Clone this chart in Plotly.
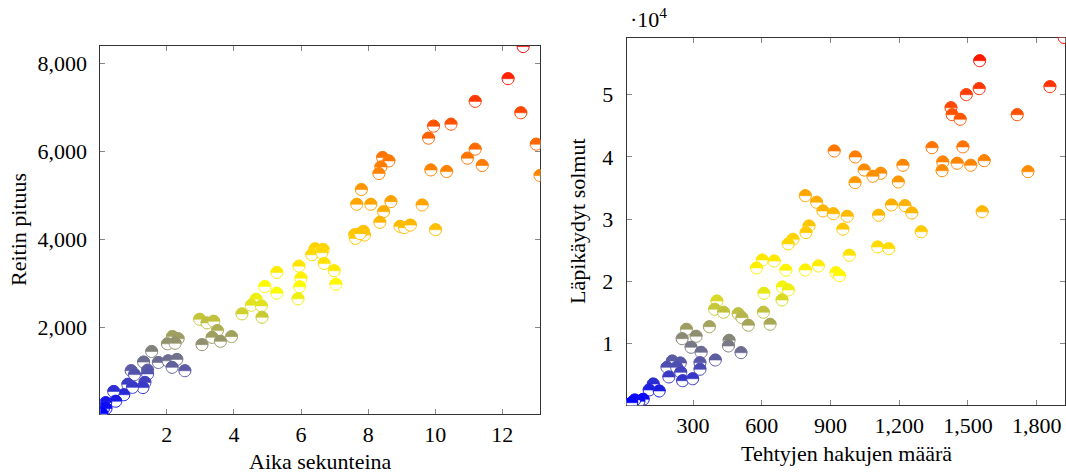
import plotly.graph_objects as go

# ---- Left chart: Aika sekunteina vs Reitin pituus ----
left_time = [12.62, 12.17, 11.19, 12.55, 9.95, 10.47, 9.80, 13.01, 11.19, 10.96,
             13.12, 8.43, 8.62, 8.38, 8.32, 9.87, 10.34, 11.40, 7.80, 7.66,
             8.08, 8.68, 8.46, 9.61, 8.35, 8.95, 9.08, 9.26, 10.01, 7.60,
             7.62, 7.86, 7.89, 7.76, 6.42, 6.66, 6.32, 6.62, 6.69, 6.99,
             7.04, 5.94, 6.00, 5.96, 5.91, 5.28, 5.28, 4.92, 4.66, 4.52,
             4.82, 4.84, 4.24, 2.98, 3.20, 3.40, 3.51, 3.35, 3.60, 3.93,
             3.05, 2.17, 2.34, 2.02, 2.25, 1.55, 1.31, 1.75, 2.04, 2.30,
             2.16, 2.54, 1.43, 1.43, 0.94, 1.04, 1.35, 1.29, 0.84, 0.98,
             0.72, 0.42, 0.48, 0.18, 0.19, 0.11, 0.05, 0.06]
left_length = [8380, 7650, 7134, 6875, 6572, 6617, 6298, 6162, 6048, 5843,
               5449, 5859, 5781, 5645, 5494, 5576, 5540, 5677, 5130, 4795,
               4795, 4856, 4628, 4779, 4385, 4294, 4264, 4323, 4218, 4105,
               4020, 4180, 4096, 4128, 3786, 3770, 3649, 3695, 3451, 3285,
               2979, 3390, 3116, 2920, 2647, 3246, 2775, 2927, 2638, 2501,
               2487, 2228, 2305, 2182, 2100, 2137, 1925, 1772, 1681, 1788,
               1606, 1790, 1742, 1625, 1636, 1450, 1210, 1200, 1238, 1270,
               1090, 1012, 1025, 940, 1015, 925, 748, 630, 705, 635,
               467, 542, 320, 288, 155, 148, 50, 35]

# ---- Right chart: Tehtyjen hakujen määrä vs Läpikäydyt solmut ----
right_searches = [1920, 1551, 1858, 1549, 1493, 1426, 1431, 1466, 1715, 916,
                  1008, 1343, 1478, 1390, 1387, 1453, 1512, 1571, 1762, 1047,
                  1119, 1085, 1216, 1007, 1196, 790, 839, 867, 912, 973,
                  1110, 1166, 1225, 1255, 1562, 806, 954, 1296, 793, 736,
                  715, 1106, 1154, 982, 602, 577, 654, 705, 790, 847,
                  924, 939, 690, 716, 688, 609, 607, 636, 404, 394,
                  433, 497, 513, 541, 371, 271, 252, 313, 457, 454,
                  291, 335, 509, 397, 209, 244, 186, 228, 330, 330,
                  246, 194, 254, 298, 126, 108, 152, 82, 63, 45,
                  15, 32]
right_nodes = [59200, 55470, 51290, 50970, 50000, 47900, 46780, 46040, 46780, 40940,
               39980, 41470, 41590, 39170, 37770, 38960, 38640, 39380, 37610, 37880,
               37350, 36870, 38640, 35840, 35950, 33750, 32690, 31290, 30850, 30430,
               30600, 32250, 32140, 30970, 31150, 28880, 28360, 27950, 27800, 26730,
               25980, 25500, 25220, 24160, 23400, 22120, 23240, 21750, 21790, 22440,
               21360, 20880, 19060, 18580, 16970, 18050, 14990, 13060, 16800, 15470,
               14990, 14760, 14120, 12900, 12670, 12250, 10740, 11130, 10480, 9570,
               9360, 8550, 8490, 7310, 7150, 6830, 6140, 6140, 6880, 5820,
               5330, 4580, 3980, 4300, 3450, 2490, 2330, 990, 670, 880,
               120, 440]

left_xticks = [2, 4, 6, 8, 10, 12]
left_yticks = [2000, 4000, 6000, 8000]
right_xticks = [300, 600, 900, 1200, 1500, 1800]
right_yticks = [10000, 20000, 30000, 40000, 50000]
right_yticklabels = ["1", "2", "3", "4", "5"]

FONT = "Liberation Serif"
FS = 22

# pgfplots "hot" colormap: blue, yellow, orange, red
cmap_stops = [(0.0, (0, 0, 255)), (1/3, (255, 255, 0)), (2/3, (255, 128, 0)), (1.0, (255, 0, 0))]


def cmap(t):
    t = min(max(t, 0.0), 1.0)
    for (t0, c0), (t1, c1) in zip(cmap_stops[:-1], cmap_stops[1:]):
        if t <= t1:
            f = (t - t0) / (t1 - t0)
            c = [round(a + (b - a) * f) for a, b in zip(c0, c1)]
            return "rgb(%d,%d,%d)" % tuple(c)
    return "rgb(255,0,0)"


R = 6.0
K = 0.5523 * R


def fmt(v):
    return ("%.2f" % v).rstrip("0").rstrip(".")


full_circle = ("M {r},0 C {r},{k} {k},{r} 0,{r} C -{k},{r} -{r},{k} -{r},0 "
               "C -{r},-{k} -{k},-{r} 0,-{r} C {k},-{r} {r},-{k} {r},0 Z").format(r=fmt(R), k=fmt(K))
top_half = ("M -{r},0 C -{r},{k} -{k},{r} 0,{r} C {k},{r} {r},{k} {r},0 Z").format(r=fmt(R), k=fmt(K))

shapes = []


def add_markers(xs, ys, xref, yref):
    ymin, ymax = min(ys), max(ys)
    cols = []
    for x, y in zip(xs, ys):
        c = cmap((y - ymin) / (ymax - ymin))
        cols.append(c)
        common = dict(type="path", xref=xref, yref=yref, xsizemode="pixel", ysizemode="pixel",
                      xanchor=x, yanchor=y, layer="above")
        shapes.append(dict(common, path=full_circle, fillcolor="white", line=dict(color=c, width=1)))
        shapes.append(dict(common, path=top_half, fillcolor=c, line=dict(color=c, width=0.6)))
    return cols


fig = go.Figure()
lc = add_markers(left_time, left_length, "x", "y")
rc = add_markers(right_searches, right_nodes, "x2", "y2")

fig.add_trace(go.Scatter(x=left_time, y=left_length, mode="markers", xaxis="x", yaxis="y",
                         marker=dict(size=12, color=lc, opacity=0), showlegend=False,
                         hovertemplate="%{x}, %{y}<extra></extra>"))
fig.add_trace(go.Scatter(x=right_searches, y=right_nodes, mode="markers", xaxis="x2", yaxis="y2",
                         marker=dict(size=12, color=rc, opacity=0), showlegend=False,
                         hovertemplate="%{x}, %{y}<extra></extra>"))

W, H = 1066, 474
axis_common = dict(showline=True, linecolor="#333", linewidth=1, mirror="allticks",
                   ticks="inside", ticklen=5, tickcolor="#888", tickwidth=1,
                   showgrid=False, zeroline=False,
                   tickfont=dict(family=FONT, size=FS, color="black"))
yaxis_extra = dict(ticklabelstandoff=8)

fig.update_layout(
    width=W, height=H,
    margin=dict(l=0, r=0, t=0, b=0),
    paper_bgcolor="white", plot_bgcolor="white",
    font=dict(family=FONT, size=FS, color="black"),
    shapes=shapes,
    xaxis=dict(axis_common, domain=[100.3 / W, 540.3 / W], range=[0.02, 13.13],
               tickvals=left_xticks, ticktext=[str(v) for v in left_xticks], anchor="y"),
    yaxis=dict(axis_common, **yaxis_extra, domain=[1 - 414.3 / H, 1 - 46 / H], range=[23, 8393],
               tickvals=left_yticks, ticktext=["{:,}".format(v) for v in left_yticks], anchor="x"),
    xaxis2=dict(axis_common, domain=[626.7 / W, 1065.3 / W], range=[10, 1925],
                tickvals=right_xticks, ticktext=["{:,}".format(v) for v in right_xticks], anchor="y2"),
    yaxis2=dict(axis_common, **yaxis_extra, domain=[1 - 405.3 / H, 1 - 37.7 / H], range=[24, 59170],
                tickvals=right_yticks, ticktext=right_yticklabels, anchor="x2"),
    annotations=[
        dict(text="Aika sekunteina", x=320.8 / W, y=1 - 461.7 / H, xref="paper", yref="paper",
             showarrow=False, xanchor="center", yanchor="middle", font=dict(family=FONT, size=FS)),
        dict(text="Reitin pituus", x=18 / W, y=1 - 230 / H, xref="paper", yref="paper",
             showarrow=False, textangle=-90, xanchor="center", yanchor="middle", font=dict(family=FONT, size=FS)),
        dict(text="Tehtyjen hakujen määrä", x=846 / W, y=1 - 453 / H, xref="paper", yref="paper",
             showarrow=False, xanchor="center", yanchor="middle", font=dict(family=FONT, size=FS)),
        dict(text="Läpikäydyt solmut", x=578 / W, y=1 - 221 / H, xref="paper", yref="paper",
             showarrow=False, textangle=-90, xanchor="center", yanchor="middle", font=dict(family=FONT, size=FS)),
        dict(text="·10<sup>4</sup>", x=628 / W, y=1 - 18 / H, xref="paper", yref="paper",
             showarrow=False, xanchor="left", yanchor="middle", font=dict(family=FONT, size=FS)),
    ],
)

fig.write_html("out.html", config={"displayModeBar": False},
               post_script="document.body.style.margin='0';document.body.style.overflow='hidden';")
